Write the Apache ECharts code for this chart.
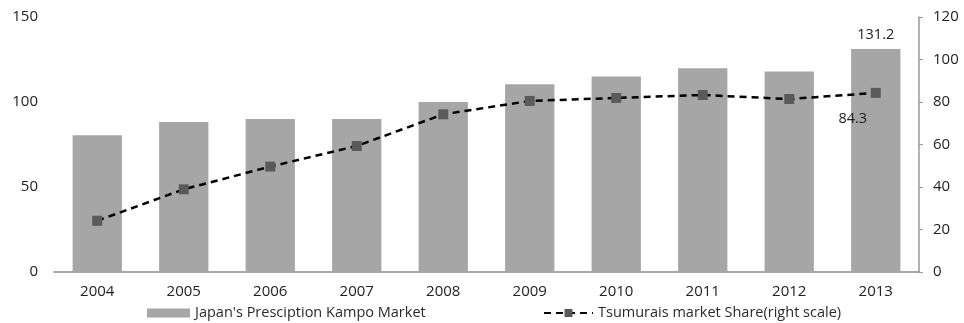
<!DOCTYPE html>
<html>
<head>
<meta charset="utf-8">
<script src="https://cdn.jsdelivr.net/npm/echarts@6/dist/echarts.min.js"></script>
<style>
html,body{margin:0;padding:0;background:#fff;}
#chart{width:964px;height:323px;}
</style>
</head>
<body>
<div id="chart"></div>
<script>
var categories = ['2004','2005','2006','2007','2008','2009','2010','2011','2012','2013'];
var marketValues = [80.5, 88.2, 90.0, 90.0, 100.0, 110.5, 115.0, 119.8, 118.0, 131.2];
var shareValues = [24.1, 38.9, 49.6, 59.3, 74.2, 80.5, 81.9, 83.3, 81.4, 84.3];
var leftTicks = [0, 50, 100, 150];
var rightTicks = [0, 20, 40, 60, 80, 100, 120];
var barName = "Japan's Presciption Kampo Market";
var lineName = "Tsumurais market Share(right scale)";

var FONT = 'Open Sans';
var last = categories.length - 1;

var barData = marketValues.map(function (v, i) {
  return i === last ? { value: v, label: { show: true } } : v;
});
var lineData = shareValues.map(function (v, i) {
  return i === last ? { value: v, label: { show: true } } : v;
});

var chart = echarts.init(document.getElementById('chart'), null, { renderer: 'canvas' });
chart.setOption({
  animation: false,
  backgroundColor: '#ffffff',
  textStyle: { fontFamily: FONT },
  grid: { left: 54, right: 45, top: 17, bottom: 51, containLabel: false },
  legend: [
    {
      data: [barName],
      left: 147, top: 304, padding: 0,
      itemWidth: 43, itemHeight: 9, itemGap: 6,
      textStyle: { fontFamily: FONT, fontSize: 14.5, color: '#2a2a2a', lineHeight: 18 },
      icon: 'rect'
    },
    {
      data: [lineName],
      left: 543, top: 304, padding: 0,
      itemWidth: 49, itemHeight: 10, itemGap: 5,
      textStyle: { fontFamily: FONT, fontSize: 14.5, color: '#2a2a2a', lineHeight: 18 }
    }
  ],
  xAxis: {
    type: 'category',
    data: categories,
    axisLine: { show: true, lineStyle: { color: '#8c8c8c', width: 1.5 } },
    axisTick: { show: false },
    axisLabel: { color: '#222', fontSize: 15, fontFamily: FONT, margin: 12 },
    splitLine: { show: false }
  },
  yAxis: [
    {
      type: 'value', min: 0, max: 150, interval: 50,
      axisLine: { show: false }, axisTick: { show: false },
      splitLine: { show: false },
      axisLabel: { color: '#222', fontSize: 15, fontFamily: FONT, margin: 16,
        formatter: function (v) { return leftTicks.indexOf(v) >= 0 ? String(v) : ''; } }
    },
    {
      type: 'value', min: 0, max: 120, interval: 20, position: 'right',
      axisLine: { show: true, lineStyle: { color: '#999999', width: 1.5 } },
      axisTick: { show: true, inside: false, length: 4, lineStyle: { color: '#999999' } },
      splitLine: { show: false },
      axisLabel: { color: '#222', fontSize: 15, fontFamily: FONT, margin: 14,
        formatter: function (v) { return rightTicks.indexOf(v) >= 0 ? String(v) : ''; } }
    }
  ],
  series: [
    {
      name: barName,
      type: 'bar',
      yAxisIndex: 0,
      data: barData,
      barWidth: '57%',
      itemStyle: { color: '#a6a6a6' },
      label: { show: false, position: 'top', distance: 7, color: '#222', fontSize: 14.5, fontFamily: FONT },
      z: 1
    },
    {
      name: lineName,
      type: 'line',
      yAxisIndex: 1,
      data: lineData,
      symbol: 'rect',
      symbolSize: 10,
      itemStyle: { color: '#5a5a5a' },
      lineStyle: { color: '#000', width: 2.5, type: [7, 5] },
      label: { show: false, position: 'bottom', offset: [-23, 9], color: '#222', fontSize: 14.5, fontFamily: FONT },
      z: 3
    }
  ]
});
</script>
</body>
</html>
